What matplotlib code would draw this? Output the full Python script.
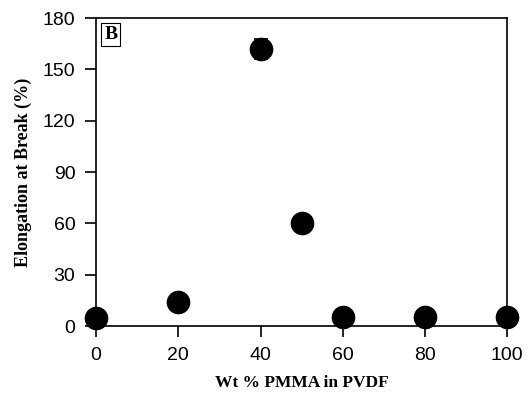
import numpy as np
import matplotlib.pyplot as plt

# Datos
pmma = [0, 20, 40, 50, 60, 80, 100]
elong = [4.5, 14, 162, 60, 5, 5, 5]
err = [0, 0, 6, 0, 0, 0, 0]

fig = plt.figure(figsize=(5.31, 4.04), dpi=100)
ax = fig.add_axes([0.181, 0.193, 0.774, 0.762])

ax.errorbar(pmma, elong, yerr=err, fmt='o', color='black', ms=16,
            capsize=5, elinewidth=1.2, capthick=1.2, clip_on=False, zorder=3)

ax.set_xlim(0, 100)
ax.set_ylim(0, 180)
ax.set_xticks(np.arange(0, 101, 20))
ax.set_yticks(np.arange(0, 181, 30))
ax.tick_params(direction='out', length=8, width=1.2, labelsize=14, pad=7)
for lab in ax.get_xticklabels() + ax.get_yticklabels():
    lab.set_fontfamily('Liberation Sans')
for s in ax.spines.values():
    s.set_linewidth(1.2)

ax.set_xlabel('Wt % PMMA in PVDF', fontfamily='Liberation Serif',
              fontweight='bold', fontsize=12.5, labelpad=8)
ax.set_ylabel('Elongation at Break (%)', fontfamily='Liberation Serif',
              fontweight='bold', fontsize=13, labelpad=8)

ax.text(0.02, 0.975, 'B', transform=ax.transAxes, va='top', ha='left',
        fontfamily='Liberation Serif', fontweight='bold', fontsize=14,
        bbox=dict(boxstyle='square,pad=0.15', fc='white', ec='black', lw=0.8))

fig.savefig('out.png', dpi=100)
